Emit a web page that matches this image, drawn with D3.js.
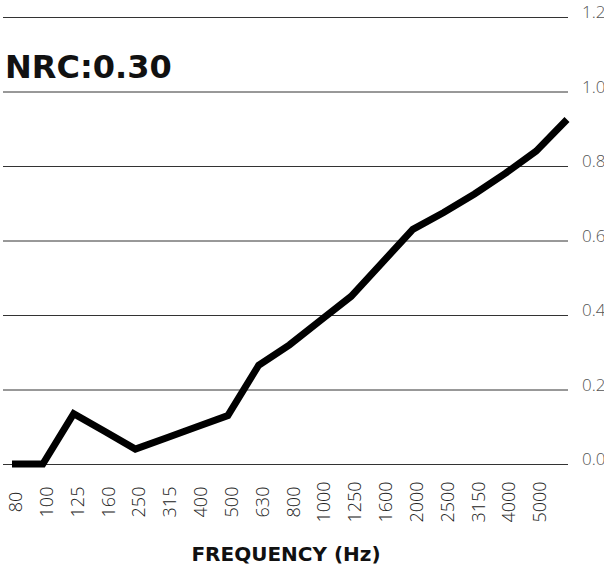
<!DOCTYPE html>
<html>
<head>
<meta charset="utf-8">
<script src="https://cdn.jsdelivr.net/npm/d3@7"></script>
<style>
  body { margin: 0; background: #fff; overflow: hidden; }
  .tick-x { font-family: "Open Sans", sans-serif; font-weight: 300; font-size: 18px; fill: #222; }
  .tick-y { font-family: "Open Sans", sans-serif; font-weight: 300; font-size: 17px; fill: #555; }
</style>
</head>
<body>
<svg id="chart" width="604" height="567"></svg>
<script>
// 1/3 octave bands (the picture skips "200" in its tick labels)
var bands = ["80", "100", "125", "160", "200", "250", "315", "400", "500", "630",
             "800", "1000", "1250", "1600", "2000", "2500", "3150", "4000", "5000"];
var absorption = [0.0, 0.0, 0.135, 0.088, 0.04, 0.07, 0.10, 0.13, 0.265, 0.32,
                  0.385, 0.45, 0.54, 0.63, 0.675, 0.725, 0.78, 0.84, 0.925];
var tickLabels = ["80", "100", "125", "160", "250", "315", "400", "500", "630", "800",
                  "1000", "1250", "1600", "2000", "2500", "3150", "4000", "5000"];
var yTicks = [0, 0.2, 0.4, 0.6, 0.8, 1.0, 1.2];

var svg = d3.select("#chart");

var x = d3.scalePoint().domain(d3.range(bands.length)).range([12, 567]);
var y = d3.scaleLinear().domain([0, 1.2]).range([464, 17]);

// gridlines + right labels
var grid = svg.append("g");
grid.selectAll("line")
  .data(yTicks)
  .enter().append("line")
  .attr("x1", 3)
  .attr("x2", 568)
  .attr("y1", function(d) { return y(d) + 0.5; })
  .attr("y2", function(d) { return y(d) + 0.5; })
  .style("stroke", "#333")
  .style("stroke-width", 1);

grid.selectAll("text")
  .data(yTicks)
  .enter().append("text")
  .attr("class", "tick-y")
  .attr("x", 582)
  .attr("y", function(d) { return y(d) + 1; })
  .text(function(d) { return d.toFixed(1); });

// bottom labels, rotated
svg.append("g").selectAll("text")
  .data(tickLabels)
  .enter().append("text")
  .attr("class", "tick-x")
  .attr("transform", function(d, i) { return "translate(" + (x(i) + 3) + ",502) rotate(-90)"; })
  .attr("text-anchor", "middle")
  .attr("dominant-baseline", "central")
  .text(function(d) { return d; });

// the curve
var line = d3.line()
  .x(function(d, i) { return x(i); })
  .y(function(d) { return y(d); });

svg.append("path")
  .datum(absorption)
  .attr("d", line)
  .style("fill", "none")
  .style("stroke", "#000")
  .style("stroke-width", 7)
  .style("stroke-linejoin", "miter");

// title
svg.append("text")
  .attr("x", 5)
  .attr("y", 78)
  .style("font-family", "DejaVu Sans, sans-serif")
  .style("font-weight", "bold")
  .style("font-size", "32px")
  .style("fill", "#111")
  .text("NRC:0.30");

// axis title
svg.append("text")
  .attr("x", 286)
  .attr("y", 561)
  .attr("text-anchor", "middle")
  .style("font-family", "DejaVu Sans, sans-serif")
  .style("font-weight", "bold")
  .style("font-size", "20px")
  .style("fill", "#111")
  .text("FREQUENCY (Hz)");
</script>
</body>
</html>
